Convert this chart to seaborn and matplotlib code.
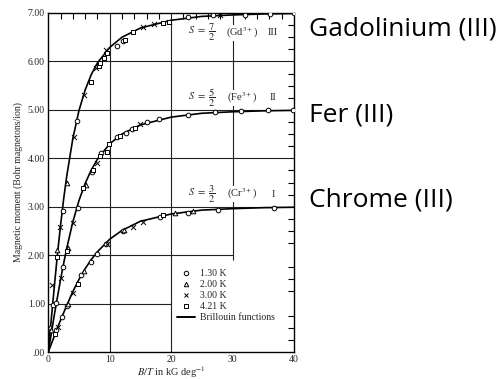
import matplotlib
matplotlib.use("Agg")
import matplotlib.pyplot as plt
from matplotlib.ticker import MultipleLocator
from matplotlib.lines import Line2D
import seaborn as sns
import pandas as pd

# ---------------- data ----------------
curve_h = [0, 0.5, 1, 1.5, 2, 2.5, 3, 4, 5, 6, 7, 8, 10, 12, 15, 20, 25, 30, 35, 40]
curve_gd = [0, 0.70, 1.38, 2.03, 2.62, 3.16, 3.63, 4.41, 4.99, 5.41, 5.73, 5.97, 6.29,
            6.50, 6.69, 6.85, 6.93, 6.96, 6.98, 6.99]
curve_fe = [0, 0.39, 0.78, 1.14, 1.50, 1.83, 2.14, 2.69, 3.13, 3.48, 3.76, 3.98, 4.30,
            4.50, 4.69, 4.85, 4.93, 4.96, 4.98, 4.99]
curve_cr = [0, 0.17, 0.33, 0.50, 0.66, 0.81, 0.96, 1.25, 1.50, 1.72, 1.91, 2.07, 2.33,
            2.51, 2.70, 2.85, 2.93, 2.96, 2.98, 2.99]

# Gd3+ (S = 7/2)
gd_130_h = [0.7, 2.4, 4.7, 11.2, 12.2, 22.8, 26.8, 32.0, 36.1, 40.0]
gd_130_m = [0.98, 2.91, 4.77, 6.32, 6.42, 6.92, 6.96, 6.96, 6.98, 6.99]
gd_200_h = [0.3, 1.4, 3.0]
gd_200_m = [0.52, 2.10, 3.49]
gd_300_h = [0.6, 1.9, 4.2, 5.8, 7.8, 9.4, 15.4, 17.2, 19.7, 27.9]
gd_300_m = [1.38, 2.58, 4.44, 5.31, 5.87, 6.24, 6.71, 6.78, 6.82, 6.96]
gd_421_h = [1.4, 6.9, 8.3, 8.4, 9.1, 9.6, 12.5, 13.8, 18.6, 19.7]
gd_421_m = [1.96, 5.58, 5.90, 5.97, 6.07, 6.18, 6.45, 6.61, 6.80, 6.82]

# Fe3+ (S = 5/2)
fe_130_h = [1.3, 2.4, 4.9, 7.1, 8.6, 11.2, 12.6, 13.7, 16.0, 18.1, 22.8, 27.1, 31.4, 35.8, 39.8]
fe_130_m = [1.02, 1.76, 2.97, 3.72, 4.10, 4.44, 4.53, 4.60, 4.74, 4.81, 4.90, 4.96, 4.98, 4.99, 5.00]
fe_200_h = [0.5, 3.2, 6.1]
fe_200_m = [0.45, 2.15, 3.45]
fe_300_h = [2.0, 4.0, 7.9, 15.0]
fe_300_m = [1.53, 2.67, 3.90, 4.70]
fe_421_h = [3.1, 5.6, 7.2, 8.4, 9.5, 9.9, 11.7, 14.1]
fe_421_m = [2.09, 3.39, 3.76, 4.05, 4.14, 4.30, 4.45, 4.63]

# Cr3+ (S = 3/2)
cr_130_h = [1.3, 2.2, 3.0, 5.4, 6.9, 7.9, 9.4, 12.2, 18.2, 22.8, 27.7, 36.8]
cr_130_m = [0.45, 0.72, 0.95, 1.59, 1.86, 2.02, 2.22, 2.50, 2.79, 2.87, 2.93, 2.98]
cr_200_h = [3.2, 5.8, 12.3, 20.6, 23.6]
cr_200_m = [1.00, 1.68, 2.52, 2.88, 2.91]
cr_300_h = [1.6, 4.0, 9.6, 13.8, 15.4]
cr_300_m = [0.52, 1.22, 2.22, 2.58, 2.68]
cr_421_h = [1.1, 4.9, 18.7]
cr_421_m = [0.38, 1.40, 2.82]

temps = ["1.30 K", "2.00 K", "3.00 K", "4.21 K"]
x_ticks = [0, 10, 20, 30, 40]
x_ticklabels = ["0", "10", "20", "30", "40"]
y_ticks = [0, 1, 2, 3, 4, 5, 6, 7]
y_ticklabels = [".00", "1.00", "2.00", "3.00", "4.00", "5.00", "6.00", "7.00"]
ion_labels = [("7", "Gd", "III"), ("5", "Fe", "II"), ("3", "Cr", "I")]
side_labels = ["Gadolinium (III)", "Fer (III)", "Chrome (III)"]

# ---------------- plotting ----------------
sns.set_style("white")
plt.rcParams["font.family"] = ["Liberation Serif", "DejaVu Serif"]
plt.rcParams["mathtext.fontset"] = "stix"

fig = plt.figure(figsize=(5.01, 3.79), dpi=100)
ax = fig.add_axes([0.0964, 0.0712, 0.4904, 0.8945])

# partial grid as in the original figure
gkw = dict(color="#222222", lw=0.8, zorder=1)
ax.hlines([3, 4, 5, 6], 0, 40, **gkw)
ax.hlines(1, 0, 20, **gkw)
ax.hlines(2, 0, 30, **gkw)
ax.vlines([10, 20], 0, 7, **gkw)
ax.vlines(30, 1.9, 7, **gkw)

# Brillouin curves
for vals in (curve_gd, curve_fe, curve_cr):
    dfc = pd.DataFrame({"h": curve_h, "m": vals})
    sns.lineplot(data=dfc, x="h", y="m", ax=ax, color="black", lw=1.2,
                 estimator=None, sort=False, zorder=3)

markers = {"1.30 K": "o", "2.00 K": "^", "3.00 K": "x", "4.21 K": "s"}
groups = {
    "1.30 K": [(gd_130_h, gd_130_m), (fe_130_h, fe_130_m), (cr_130_h, cr_130_m)],
    "2.00 K": [(gd_200_h, gd_200_m), (fe_200_h, fe_200_m), (cr_200_h, cr_200_m)],
    "3.00 K": [(gd_300_h, gd_300_m), (fe_300_h, fe_300_m), (cr_300_h, cr_300_m)],
    "4.21 K": [(gd_421_h, gd_421_m), (fe_421_h, fe_421_m), (cr_421_h, cr_421_m)],
}
for t in temps:
    hs, ms = [], []
    for h, m in groups[t]:
        hs += h
        ms += m
    dfp = pd.DataFrame({"h": hs, "m": ms})
    mk = markers[t]
    if mk == "x":
        sns.scatterplot(data=dfp, x="h", y="m", ax=ax, marker=mk, s=13,
                        color="black", linewidth=0.7, zorder=4)
    else:
        sns.scatterplot(data=dfp, x="h", y="m", ax=ax, marker=mk, s=11,
                        facecolor="white", edgecolor="black", linewidth=0.7, zorder=4)

# ion labels inside the plot
label_y = [6.59, 5.25, 3.26]
for (num, ion, roman), yy in zip(ion_labels, label_y):
    ax.text(22.8, yy, r"$S\ =\ \dfrac{%s}{2}$" % num, fontsize=7.5, ha="left", va="center", zorder=5)
    ax.text(31.6, yy, r"(%s$^{3+}$)" % ion, fontsize=7.5, ha="center", va="center", zorder=5,
            bbox=dict(facecolor="white", edgecolor="none", pad=0.6))
    ax.text(36.6, yy, roman, fontsize=7.5, ha="center", va="center", zorder=5)

ax.set_xlim(0, 40)
ax.set_ylim(0, 7)
ax.set_xticks(x_ticks)
ax.set_xticklabels(x_ticklabels)
ax.set_yticks(y_ticks)
ax.set_yticklabels(y_ticklabels)
ax.xaxis.set_minor_locator(MultipleLocator(2))
ax.yaxis.set_minor_locator(MultipleLocator(0.25))
ax.tick_params(which="both", direction="in", top=True, right=True, color="black", width=0.8)
ax.tick_params(which="major", length=0, labelsize=7, pad=2.5)
ax.tick_params(which="minor", length=4)
for s in ax.spines.values():
    s.set_color("black")
    s.set_linewidth(1.0)

ax.set_xlabel(r"$B/T$ in kG deg$^{-1}$", fontsize=7.5, labelpad=0)
ax.set_ylabel("Magnetic moment (Bohr magnetons/ion)", fontsize=7, labelpad=3)

handles = [Line2D([], [], ls="none", marker=markers[t], markersize=3.2, mfc="white",
                  mec="black", mew=0.7, color="black") for t in temps]
handles.append(Line2D([], [], color="black", lw=1.4))
ax.legend(handles, temps + ["Brillouin functions"], loc="upper left",
          bbox_to_anchor=(0.51, 0.255), frameon=False, fontsize=7, handlelength=1.8,
          handletextpad=0.5, labelspacing=0.2, borderaxespad=0)

# side labels
for lab, yy in zip(side_labels, [29, 115, 200]):
    fig.text(309 / 501, 1 - yy / 379, lab, fontsize=19, ha="left", va="center",
             family=["Open Sans", "DejaVu Sans"], color="black")

fig.savefig("out.png", dpi=100)
